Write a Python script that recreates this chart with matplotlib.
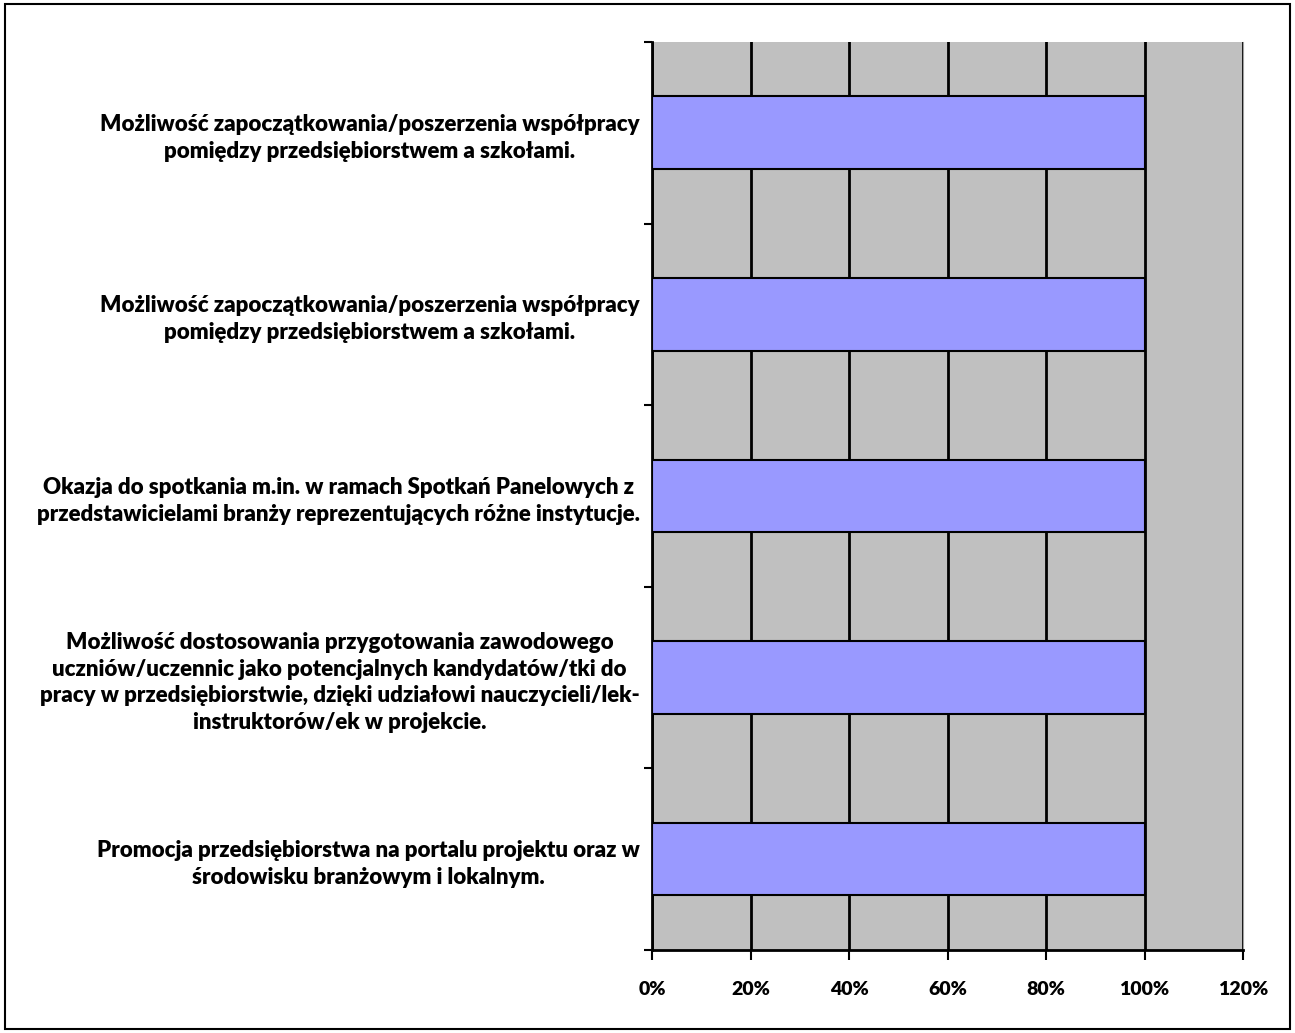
import numpy as np
import matplotlib.pyplot as plt
from matplotlib.patches import Rectangle
from matplotlib.ticker import PercentFormatter

plt.rcParams['font.family'] = ['Lato', 'DejaVu Sans']

categories = [
    'Możliwość zapoczątkowania/poszerzenia współpracy\npomiędzy przedsiębiorstwem a szkołami.',
    'Możliwość zapoczątkowania/poszerzenia współpracy\npomiędzy przedsiębiorstwem a szkołami.',
    'Okazja do spotkania m.in. w ramach Spotkań Panelowych z\nprzedstawicielami branży reprezentujących różne instytucje.',
    'Możliwość dostosowania przygotowania zawodowego\nuczniów/uczennic jako potencjalnych kandydatów/tki do\n'
    'pracy w przedsiębiorstwie, dzięki udziałowi nauczycieli/lek-\ninstruktorów/ek w projekcie.',
    'Promocja przedsiębiorstwa na portalu projektu oraz w\nśrodowisku branżowym i lokalnym.',
]
values = [100, 100, 100, 100, 100]
xticks = [0, 20, 40, 60, 80, 100, 120]

fig = plt.figure(figsize=(12.95, 10.33), dpi=100)
fig.patches.append(Rectangle((0.004, 0.004), 0.992, 0.992, transform=fig.transFigure,
                             fill=False, edgecolor='black', linewidth=1.5))
ax = fig.add_axes([0.5035, 0.0804, 0.4564, 0.8790])
ax.set_facecolor('#C0C0C0')

pos = np.arange(len(categories))
ax.barh(pos, values, height=0.4, color='#9999FF', edgecolor='black', linewidth=1.5, zorder=3)

ax.set_xlim(0, 120)
ax.set_ylim(len(categories) - 0.5, -0.5)
ax.set_xticks(xticks)
ax.xaxis.set_major_formatter(PercentFormatter(decimals=0))
ax.grid(axis='x', color='black', linewidth=2, zorder=1)
ax.set_axisbelow(True)

ax.set_yticks(pos)
ax.set_yticklabels(categories)
ax.set_yticks(np.arange(len(categories) + 1) - 0.5, minor=True)
ax.tick_params(axis='y', which='major', length=0, pad=9)
ax.tick_params(axis='y', which='minor', length=6, width=1.5, direction='out')
ax.tick_params(axis='x', length=7, width=1.5, pad=15)
for lab in ax.get_yticklabels():
    lab.set_multialignment('center')
    lab.set_linespacing(1.35)
    lab.set_fontweight('heavy')
    lab.set_fontsize(16)
for lab in ax.get_xticklabels():
    lab.set_fontweight('heavy')
    lab.set_fontsize(14)

ax.spines['top'].set_visible(False)
ax.spines['right'].set_color('#A0A0A0')
ax.spines['left'].set_linewidth(2)
ax.spines['bottom'].set_linewidth(2)

fig.savefig('out.png', dpi=100)
